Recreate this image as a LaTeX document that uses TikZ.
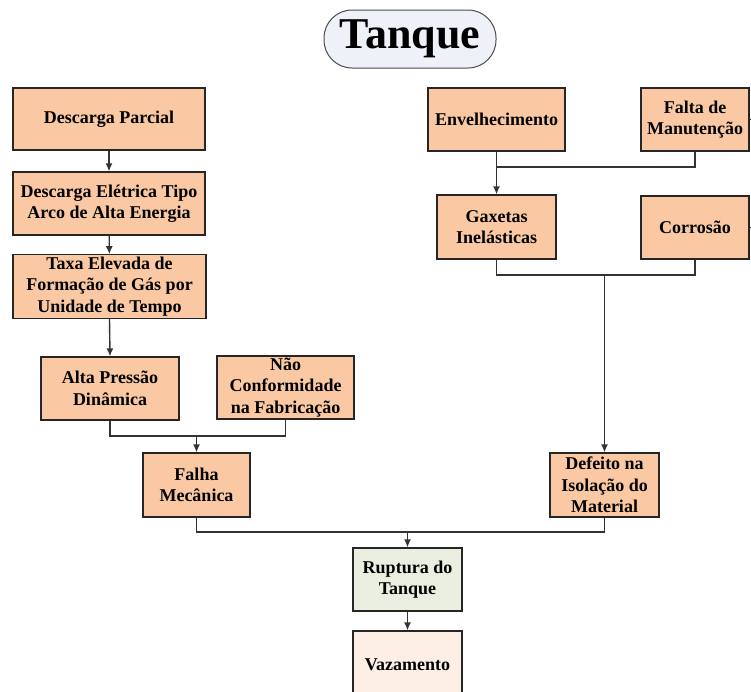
\documentclass[tikz,border=0pt]{standalone}
\usepackage{fontspec}
\setmainfont{Liberation Serif}
\usetikzlibrary{arrows.meta}
\definecolor{pessego}{RGB}{250,201,163}
\definecolor{verdeclaro}{RGB}{233,238,224}
\definecolor{pessegoclaro}{RGB}{253,239,230}
\definecolor{pilula}{RGB}{238,241,248}
\tikzset{
  caixa/.style = {draw = black!85, line width = 1.3pt, fill = pessego, align = center,
    inner sep = 2pt, font = \fontsize{18}{21.5}\selectfont\bfseries},
  linha/.style = {draw = black!80, line width = 1.4pt},
  seta/.style = {linha, -{Latex[length=8pt,width=7pt]}}
}
\begin{document}
\begin{tikzpicture}[x = 1pt, y = -1pt]
\useasboundingbox (0,0) rectangle (751,691);
% titulo
\node [draw = black!70, line width = 1pt, fill = pilula, rounded corners = 28pt, minimum width = 172pt, minimum height = 58pt, font = \fontsize{44}{44}\selectfont\bfseries] (titulo) at (410,39) {Tanque};
% ramo esquerdo
\node [caixa, minimum width = 192pt, minimum height = 62pt] (dp) at (109,119) {Descarga Parcial};
\node [caixa, minimum width = 192pt, minimum height = 63pt] (de) at (109,203.5) {Descarga Elétrica Tipo\\Arco de Alta Energia};
\node [caixa, minimum width = 193pt, minimum height = 63pt] (tx) at (109.5,286.5) {Taxa Elevada de\\Formação de Gás por\\Unidade de Tempo};
\node [caixa, minimum width = 138pt, minimum height = 63pt] (ap) at (110,388.5) {Alta Pressão\\Dinâmica};
\node [caixa, minimum width = 137pt, minimum height = 63pt] (nc) at (285.5,387.5) {Não\\Conformidade\\na Fabricação};
\node [caixa, minimum width = 107pt, minimum height = 64pt] (fm) at (196.5,485) {Falha\\Mecânica};
% ramo direito
\node [caixa, minimum width = 137pt, minimum height = 63pt] (ev) at (496.5,119.5) {Envelhecimento};
\node [caixa, minimum width = 108pt, minimum height = 63pt] (ft) at (695,119.5) {Falta de\\Manutenção};
\node [caixa, minimum width = 119pt, minimum height = 64pt] (gx) at (496.5,227) {Gaxetas\\Inelásticas};
\node [caixa, minimum width = 108pt, minimum height = 63pt] (co) at (695,227.5) {Corrosão};
\node [caixa, minimum width = 109pt, minimum height = 64pt] (di) at (604.5,485) {Defeito na\\Isolação do\\Material};
% final
\node [caixa, fill = verdeclaro, minimum width = 109pt, minimum height = 63pt] (rt) at (407.5,579.5) {Ruptura do\\Tanque};
\node [caixa, fill = pessegoclaro, minimum width = 109pt, minimum height = 68pt] (vz) at (407.5,665) {Vazamento};
% juncoes
\coordinate (j1) at (fm.north |- 0,436);
\coordinate (j2) at (ev.south |- 0,167);
\coordinate (j3) at (di.north |- 0,275);
\coordinate (j4) at (rt.north |- 0,532);
\coordinate (sa) at (760,119.5);
\coordinate (sb) at (760,227.5);
% ligacoes
\draw [seta] (dp) -- (de);
\draw [seta] (de) -- (tx);
\draw [seta] (tx.south) -- (ap.north);
\draw [linha] (ap.south) |- (j1) -| (nc.south);
\draw [seta] (j1) -- (fm.north);
\draw [linha] (j2) -| (ft.south);
\draw [seta] (ev.south) -- (gx.north);
\draw [linha] (gx.south) |- (j3) -| (co.south);
\draw [seta] (j3) -- (di.north);
\draw [linha] (fm.south) |- (j4) -| (di.south);
\draw [seta] (j4) -- (rt.north);
\draw [seta] (rt) -- (vz);
\draw [linha] (ft.east) -- (sa);
\draw [linha] (co.east) -- (sb);
\end{tikzpicture}
\end{document}
